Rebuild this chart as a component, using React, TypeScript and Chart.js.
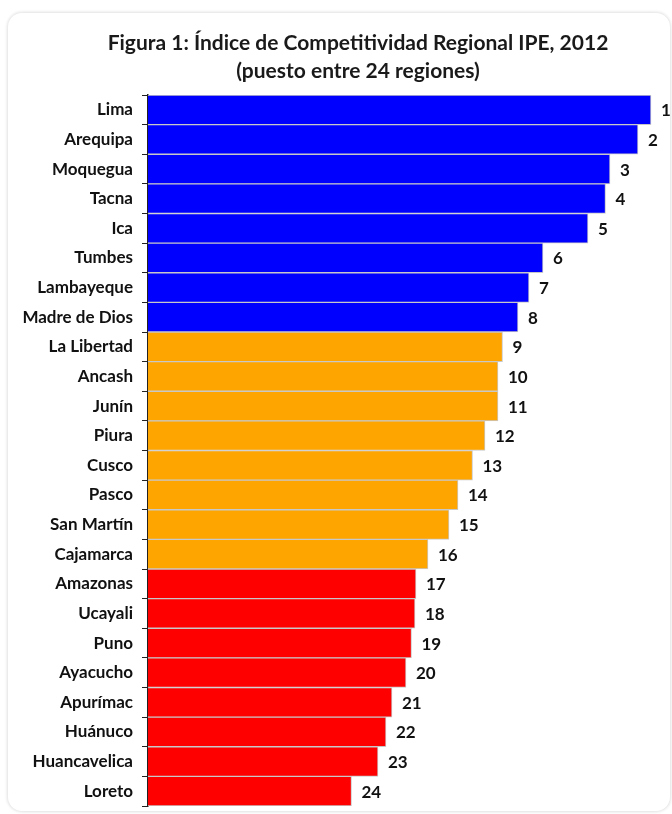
import React, { useEffect, useRef } from "react";
import { Chart, registerables } from "chart.js";

Chart.register(...registerables);

const regions = [
  "Lima", "Arequipa", "Moquegua", "Tacna", "Ica", "Tumbes", "Lambayeque", "Madre de Dios",
  "La Libertad", "Ancash", "Junín", "Piura", "Cusco", "Pasco", "San Martín", "Cajamarca",
  "Amazonas", "Ucayali", "Puno", "Ayacucho", "Apurímac", "Huánuco", "Huancavelica", "Loreto",
];

// index score
const scores = [
  5.03, 4.9, 4.62, 4.575, 4.4, 3.95, 3.81, 3.7,
  3.545, 3.5, 3.5, 3.37, 3.245, 3.1, 3.01, 2.8,
  2.68, 2.67, 2.635, 2.58, 2.44, 2.38, 2.3, 2.035,
];

const ranks = regions.map((_, i) => String(i + 1));

const groupColors = ["#0000FF", "#FFA500", "#FF0000"];
const groupOf = [0, 0, 0, 0, 0, 0, 0, 0, 1, 1, 1, 1, 1, 1, 1, 1, 2, 2, 2, 2, 2, 2, 2, 2];

const titleLines = [
  "Figura 1: Índice de Competitividad Regional IPE, 2012",
  "(puesto entre 24 regiones)",
];

const FONT = "Lato, 'Open Sans', sans-serif";

const rankLabels = {
  id: "rankLabels",
  afterDatasetsDraw(chart: any) {
    const ctx = chart.ctx;
    const meta = chart.getDatasetMeta(0);
    ctx.save();
    ctx.font = `bold 17px ${FONT}`;
    ctx.fillStyle = "#111";
    ctx.textAlign = "left";
    ctx.textBaseline = "middle";
    meta.data.forEach((bar: any, i: number) => {
      ctx.fillText(ranks[i], bar.x + 10, bar.y + 1);
    });
    ctx.restore();
  },
};

export default function App() {
  const ref = useRef<HTMLCanvasElement>(null);
  useEffect(() => {
    if (!ref.current) return;
    const chart = new Chart(ref.current, {
      type: "bar",
      data: {
        labels: regions,
        datasets: [
          {
            data: scores,
            backgroundColor: groupOf.map((g) => groupColors[g]),
            borderColor: "#c8c8c8",
            borderWidth: 1,
            barPercentage: 1,
            categoryPercentage: 1,
          },
        ],
      },
      options: {
        indexAxis: "y",
        animation: false,
        responsive: false,
        maintainAspectRatio: false,
        layout: { padding: { left: 0, right: 4, top: 95, bottom: 8 } },
        plugins: {
          legend: { display: false },
          tooltip: { enabled: false },
          title: { display: false },
        },
        scales: {
          x: { display: false, min: 0, max: 5.2 },
          y: {
            afterFit: (s: any) => {
              s.width = 148;
              s.paddingTop = 0;
              s.paddingBottom = 0;
            },
            border: { display: true, color: "#222", width: 1.5 },
            grid: {
              offset: true,
              drawOnChartArea: false,
              drawTicks: true,
              tickLength: 6,
              color: "#222",
            },
            ticks: {
              color: "#111",
              padding: 9,
              font: { family: FONT, size: 17, weight: "bold" },
            },
          },
        },
      },
      plugins: [rankLabels],
    });
    return () => chart.destroy();
  }, []);

  return (
    <div
      style={{
        position: "fixed",
        left: 0,
        top: 0,
        width: 672,
        height: 814,
        overflow: "hidden",
        background: "#fff",
      }}
    >
      <div
        style={{
          position: "absolute",
          left: 8,
          top: 13,
          width: 662,
          height: 798,
          borderRadius: 14,
          background: "#fff",
          boxShadow: "0 0 3px 1px rgba(0,0,0,0.12)",
        }}
      />
      <canvas
        ref={ref}
        width={672}
        height={814}
        style={{ position: "absolute", left: 0, top: 0 }}
      />
      <div
        style={{
          position: "absolute",
          left: 358 - 300,
          top: 42 - 14,
          width: 600,
          textAlign: "center",
          fontFamily: FONT,
          fontWeight: "bold",
          fontSize: 21,
          lineHeight: "28px",
          color: "#1a1a1a",
        }}
      >
        {titleLines.map((t) => (
          <div key={t}>{t}</div>
        ))}
      </div>
    </div>
  );
}
